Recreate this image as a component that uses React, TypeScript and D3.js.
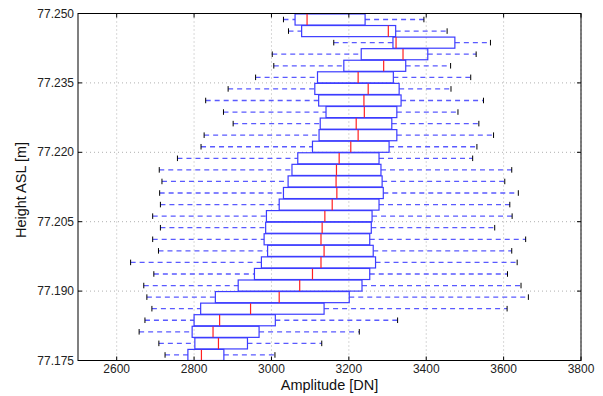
import * as d3 from 'd3'

// rows listed from bottom (lowest height) to top
const heights = [
  77.1762, 77.1787, 77.1812, 77.1837, 77.1862, 77.1887, 77.1912, 77.1937, 77.1962, 77.1987,
  77.2012, 77.2037, 77.2062, 77.2087, 77.2112, 77.2137, 77.2162, 77.2187, 77.2212, 77.2237,
  77.2262, 77.2287, 77.2312, 77.2337, 77.2362, 77.2387, 77.2412, 77.2437, 77.2462, 77.2487,
]
const whiskerLow = [
  2725, 2709, 2658, 2673, 2691, 2678, 2670, 2696, 2636, 2708,
  2693, 2713, 2693, 2713, 2711, 2717, 2710, 2757, 2818, 2826,
  2901, 2876, 2830, 2888, 2959, 3006, 3002, 3161, 3044, 3031,
]
const q1 = [
  2784, 2802, 2795, 2800, 2817, 2855, 2914, 2956, 2974, 2990,
  2981, 2985, 2987, 3020, 3031, 3043, 3053, 3068, 3106, 3123,
  3126, 3141, 3122, 3112, 3119, 3187, 3232, 3314, 3078, 3061,
]
const medians = [
  2819, 2863, 2849, 2866, 2946, 3020, 3073, 3106, 3128, 3136,
  3128, 3131, 3138, 3157, 3169, 3167, 3168, 3175, 3205, 3224,
  3219, 3240, 3239, 3250, 3224, 3290, 3340, 3322, 3302, 3092,
]
const q3 = [
  2877, 2938, 2968, 3010, 3136, 3201, 3234, 3254, 3269, 3263,
  3254, 3258, 3260, 3278, 3289, 3286, 3283, 3278, 3304, 3324,
  3311, 3324, 3335, 3330, 3315, 3347, 3404, 3474, 3321, 3242,
]
const whiskerHigh = [
  3009, 3130, 3227, 3326, 3609, 3664, 3645, 3610, 3635, 3621,
  3657, 3577, 3622, 3616, 3638, 3603, 3621, 3520, 3531, 3574,
  3536, 3482, 3548, 3464, 3515, 3463, 3529, 3566, 3454, 3394,
]
const xTicks = [2600, 2800, 3000, 3200, 3400, 3600, 3800]
const yTicks = [77.175, 77.19, 77.205, 77.22, 77.235, 77.25]

const WIDTH = 603
const HEIGHT = 396
const MARGIN = { TOP: 13.5, RIGHT: 22, BOTTOM: 35.5, LEFT: 78 }
const BOX_H = 0.0024
const CAP_H = 0.0012
const FONT = '"Liberation Sans", Arial, sans-serif'

export default function App() {
  const x = d3.scaleLinear().domain([2500, 3800]).range([MARGIN.LEFT, WIDTH - MARGIN.RIGHT])
  const y = d3.scaleLinear().domain([77.175, 77.25]).range([HEIGHT - MARGIN.BOTTOM, MARGIN.TOP])
  const x0 = x.range()[0], x1 = x.range()[1]
  const y0 = y.range()[0], y1 = y.range()[1]
  const pxBox = Math.abs(y(0) - y(BOX_H))
  const pxCap = Math.abs(y(0) - y(CAP_H))

  const rows = heights.map((h, i) => ({
    h, lo: whiskerLow[i], q1: q1[i], med: medians[i], q3: q3[i], hi: whiskerHigh[i],
  }))

  return (
    <svg width={WIDTH} height={HEIGHT} style={{ position: 'absolute', left: 0, top: 0, background: '#fff' }}>
      <defs>
        <clipPath id="plot-area">
          <rect x={x0} y={y1} width={x1 - x0} height={y0 - y1} />
        </clipPath>
      </defs>

      {/* grid */}
      <g stroke="#b0b0b0" strokeWidth={1} strokeDasharray="1,3">
        {xTicks.map(t => (
          <line key={'gx' + t} x1={x(t)} x2={x(t)} y1={y1} y2={y0} />
        ))}
        {yTicks.map(t => (
          <line key={'gy' + t} x1={x0} x2={x1} y1={y(t)} y2={y(t)} />
        ))}
      </g>

      <g clipPath="url(#plot-area)">
        {rows.map((r, i) => {
          const cy = y(r.h)
          return (
            <g key={i}>
              <line x1={x(r.lo)} x2={x(r.q1)} y1={cy} y2={cy} stroke="#5a5aff" strokeWidth={1.3} strokeDasharray="5,4" />
              <line x1={x(r.q3)} x2={x(r.hi)} y1={cy} y2={cy} stroke="#5a5aff" strokeWidth={1.3} strokeDasharray="5,4" />
              <line x1={x(r.lo)} x2={x(r.lo)} y1={cy - pxCap / 2} y2={cy + pxCap / 2} stroke="#000" strokeWidth={1} />
              <line x1={x(r.hi)} x2={x(r.hi)} y1={cy - pxCap / 2} y2={cy + pxCap / 2} stroke="#000" strokeWidth={1} />
              <rect x={x(r.q1)} y={cy - pxBox / 2} width={x(r.q3) - x(r.q1)} height={pxBox}
                fill="none" stroke="#3c3cff" strokeWidth={1.2} />
              <line x1={x(r.med)} x2={x(r.med)} y1={cy - pxBox / 2} y2={cy + pxBox / 2} stroke="#ff2020" strokeWidth={1.2} />
            </g>
          )
        })}
      </g>

      {/* ticks inside on all sides */}
      <g stroke="#000" strokeWidth={1}>
        {xTicks.map(t => (
          <g key={'tx' + t}>
            <line x1={x(t)} x2={x(t)} y1={y0} y2={y0 - 4} />
            <line x1={x(t)} x2={x(t)} y1={y1} y2={y1 + 4} />
          </g>
        ))}
        {yTicks.map(t => (
          <g key={'ty' + t}>
            <line x1={x0} x2={x0 + 4} y1={y(t)} y2={y(t)} />
            <line x1={x1} x2={x1 - 4} y1={y(t)} y2={y(t)} />
          </g>
        ))}
      </g>

      <rect x={x0} y={y1} width={x1 - x0} height={y0 - y1} fill="none" stroke="#000" strokeWidth={1} />

      <g fontFamily={FONT} fontSize={12} fill="#222">
        {xTicks.map(t => (
          <text key={'lx' + t} x={x(t)} y={y0 + 12} textAnchor="middle">{t}</text>
        ))}
        {yTicks.map(t => (
          <text key={'ly' + t} x={x0 - 4} y={y(t) + 4} textAnchor="end">{t.toFixed(3)}</text>
        ))}
      </g>

      <text x={(x0 + x1) / 2} y={y0 + 29} textAnchor="middle" fontFamily={FONT} fontSize={14.5} fill="#111">
        Amplitude [DN]
      </text>
      <text transform={`translate(26,${(y0 + y1) / 2 + 3}) rotate(-90)`} textAnchor="middle"
        fontFamily={FONT} fontSize={14.5} fill="#111">
        Height ASL [m]
      </text>
    </svg>
  )
}
